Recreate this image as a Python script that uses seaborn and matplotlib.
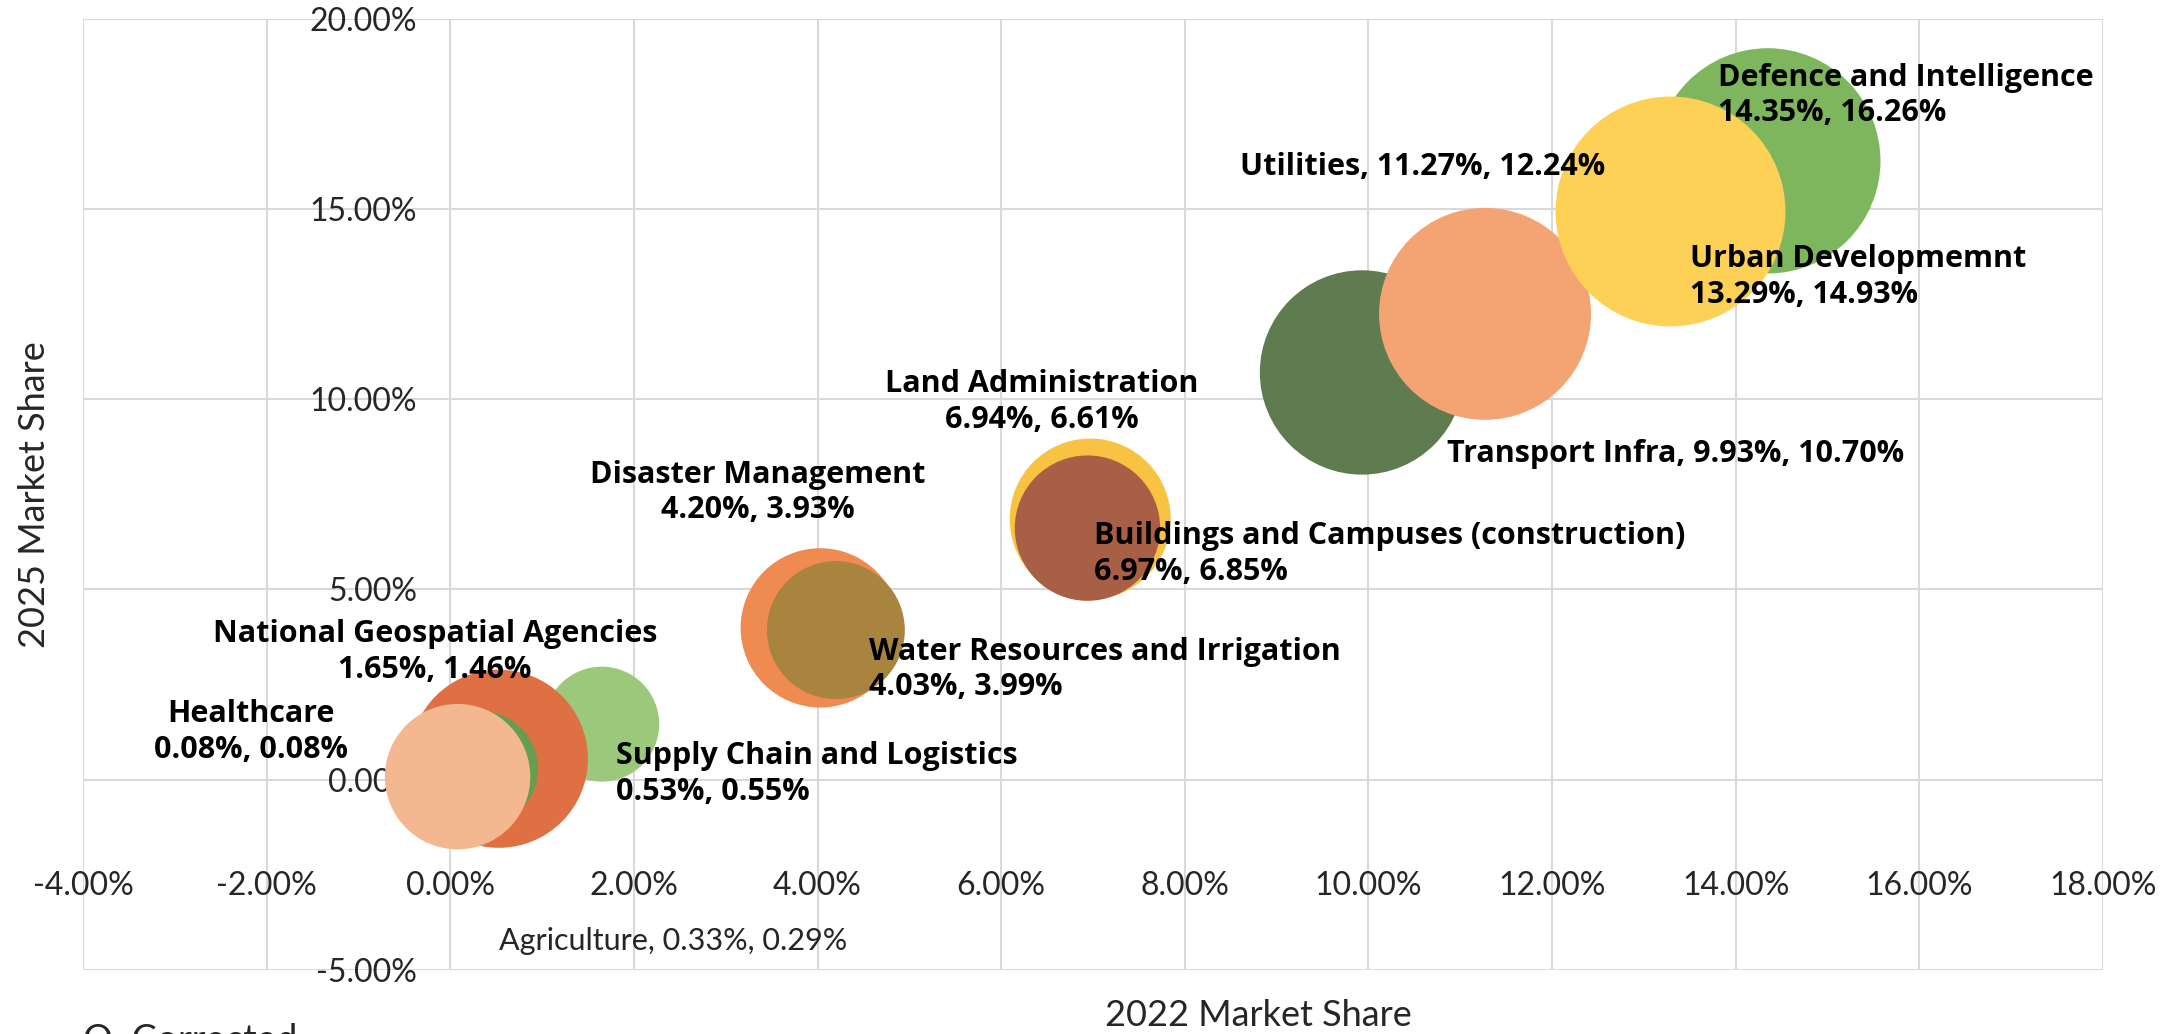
import numpy as np
import pandas as pd
import matplotlib
matplotlib.use('Agg')
import matplotlib.pyplot as plt
from matplotlib.ticker import FuncFormatter, MultipleLocator
import seaborn as sns

# values (market share in %), drawn bottom -> top
sectors = ['National Geospatial Agencies', 'Supply Chain and Logistics', 'Agriculture', 'Healthcare',
           'Water Resources and Irrigation', 'Disaster Management',
           'Buildings and Campuses (construction)', 'Land Administration',
           'Transport Infra', 'Utilities', 'Defence and Intelligence', 'Urban Developmemnt']
share_2022 = [1.65, 0.53, 0.33, 0.08, 4.03, 4.20, 6.97, 6.94, 9.93, 11.27, 14.35, 13.29]
share_2025 = [1.46, 0.55, 0.29, 0.08, 3.99, 3.93, 6.85, 6.61, 10.70, 12.24, 16.26, 14.93]
bubble_size = [25, 60, 25, 40, 48, 36, 49, 40, 79, 85, 96, 100]

colors = {
    'National Geospatial Agencies': '#9BC87A',
    'Supply Chain and Logistics': '#DE7043',
    'Agriculture': '#679D4E',
    'Healthcare': '#F3B890',
    'Water Resources and Irrigation': '#EF8A50',
    'Disaster Management': '#A8843F',
    'Buildings and Campuses (construction)': '#F8C243',
    'Land Administration': '#A95F45',
    'Transport Infra': '#5F7C50',
    'Utilities': '#F4A373',
    'Defence and Intelligence': '#7DB65D',
    'Urban Developmemnt': '#FDD155',
}

# label placement: (dx, dy) in points, horizontal alignment, single line?, bold?
label_style = {
    'National Geospatial Agencies': ((-120, 52), 'center', False, True),
    'Supply Chain and Logistics': ((84, -11), 'left', False, True),
    'Agriculture': ((139, -124), 'center', True, False),
    'Healthcare': ((-149, 32), 'center', False, True),
    'Water Resources and Irrigation': ((35, -30), 'left', False, True),
    'Disaster Management': ((-56, 99), 'center', False, True),
    'Buildings and Campuses (construction)': ((3, -25), 'left', False, True),
    'Land Administration': ((-33, 91), 'center', False, True),
    'Transport Infra': ((61, -59), 'left', True, True),
    'Utilities': ((-45, 106), 'center', True, True),
    'Defence and Intelligence': ((-36, 47), 'left', False, True),
    'Urban Developmemnt': ((14, -47), 'left', False, True),
}

df = pd.DataFrame({'sector': sectors, 'x': share_2022, 'y': share_2025, 'bubble': bubble_size})

sns.set_theme(style='white')
plt.rcParams['font.family'] = ['Lato', 'DejaVu Sans']

fig = plt.figure(figsize=(21.77, 10.34), dpi=100)
ax = fig.add_axes([0.0381, 0.0619, 0.9279, 0.9202])

sns.scatterplot(data=df, x='x', y='y', hue='sector', palette=colors, size='bubble',
                sizes=(0, 27400), size_norm=(0, 100), legend=False, linewidth=0,
                alpha=1, ax=ax, zorder=3)

ax.set_xlim(-4, 18)
ax.set_ylim(-5, 20)
ax.xaxis.set_major_locator(MultipleLocator(2))
ax.yaxis.set_major_locator(MultipleLocator(5))
pct = FuncFormatter(lambda v, p: f'{v:.2f}%')
ax.xaxis.set_major_formatter(pct)
ax.yaxis.set_major_formatter(pct)

for s in ax.spines.values():
    s.set_visible(False)
ax.spines['bottom'].set_position(('data', -2))
ax.spines['left'].set_position(('data', 0))

ax.set_axisbelow(True)
ax.grid(True, color='#D9D9D9', linewidth=1.5)
ax.tick_params(axis='x', length=0, pad=11, labelsize=23, labelcolor='#262626')
ax.tick_params(axis='y', length=0, pad=24, labelsize=23, labelcolor='#262626')

ax.set_xlabel('2022 Market Share', fontsize=26, color='#262626', va='center')
ax.xaxis.set_label_coords(0.582, -0.048)
ax.set_ylabel('2025 Market Share', fontsize=26, color='#262626', va='center')
ax.yaxis.set_label_coords(-0.0238, 0.5)

for _, row in df.iterrows():
    off, ha, single, bold = label_style[row['sector']]
    sep = ', ' if single else '\n'
    txt = f"{row['sector']}{sep}{row['x']:.2f}%, {row['y']:.2f}%"
    if bold:
        ax.annotate(txt, (row['x'], row['y']), xytext=off, textcoords='offset points',
                    ha=ha, va='center', multialignment=ha, linespacing=1.25,
                    fontsize=22, fontweight='bold', color='black', zorder=5,
                    family=['Open Sans', 'DejaVu Sans'])
    else:
        ax.annotate(txt, (row['x'], row['y']), xytext=off, textcoords='offset points',
                    ha=ha, va='center', fontsize=22, color='#262626', zorder=5)

fig.text(0.0381, 0.0116, 'Q. Corrected', va='top', ha='left', fontsize=27, color='#262626')

fig.savefig('out.png', dpi=100)
